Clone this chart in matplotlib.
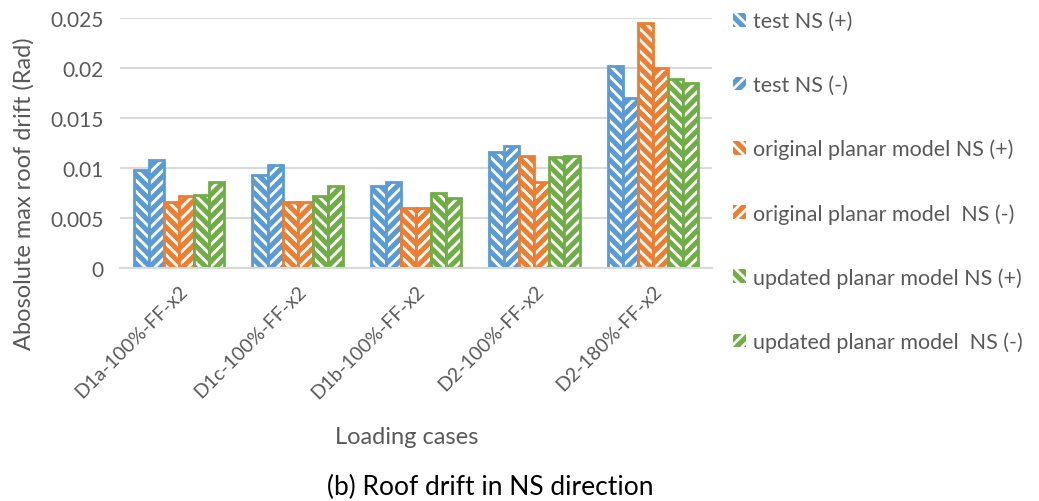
import matplotlib
matplotlib.use("Agg")
import matplotlib.pyplot as plt
import numpy as np

plt.rcParams["font.family"] = ["Lato", "DejaVu Sans"]
plt.rcParams["hatch.linewidth"] = 2.0

cases = ["D1a-100%-FF-x2", "D1c-100%-FF-x2", "D1b-100%-FF-x2",
         "D2-100%-FF-x2", "D2-180%-FF-x2"]
labels = ["test NS (+)", "test NS (-)",
          "original planar model NS (+)", "original planar model  NS (-)",
          "updated planar model NS (+)", "updated planar model  NS (-)"]
test_pos = [0.0098, 0.0093, 0.0082, 0.0116, 0.0202]
test_neg = [0.0108, 0.0103, 0.0086, 0.0122, 0.0170]
orig_pos = [0.0066, 0.0066, 0.0060, 0.0112, 0.0245]
orig_neg = [0.0072, 0.0066, 0.0060, 0.0086, 0.0200]
upd_pos = [0.0073, 0.0072, 0.0075, 0.0111, 0.0189]
upd_neg = [0.0086, 0.0082, 0.0070, 0.0112, 0.0185]

series = [test_pos, test_neg, orig_pos, orig_neg, upd_pos, upd_neg]
colors = ["#5B9BD5", "#5B9BD5", "#ED7D31", "#ED7D31", "#70AD47", "#70AD47"]
hatches = ["\\\\\\", "///", "\\\\\\", "///", "\\\\\\", "///"]

fig = plt.figure(figsize=(10.39, 5.02), dpi=100)
ax = fig.add_axes([120 / 1039, 1 - 269 / 502, 592 / 1039, 250 / 502])

x = np.arange(len(cases))
w = 0.127
handles = []
for i, (vals, c, h, lab) in enumerate(zip(series, colors, hatches, labels)):
    # coloured fill with white hatch, then a coloured outline on top
    b = ax.bar(x + (i - 2.5) * w, vals, w, facecolor=c, edgecolor="white",
               hatch=h, linewidth=0, label=lab)
    ax.bar(x + (i - 2.5) * w, vals, w, fill=False, edgecolor=c, linewidth=2)
    handles.append(b)

ax.set_xlim(-0.5, len(cases) - 0.5)
ax.set_ylim(0, 0.025)
ax.set_yticks([0, 0.005, 0.01, 0.015, 0.02, 0.025])
ax.set_yticklabels(["0", "0.005", "0.01", "0.015", "0.02", "0.025"])
ax.set_xticks(x)
ax.set_xticklabels(cases, rotation=45, ha="right", rotation_mode="anchor")
ax.tick_params(axis="y", length=0, labelsize=15, colors="#595959", pad=12)
ax.tick_params(axis="x", length=0, labelsize=14, colors="#595959", pad=10)
ax.grid(axis="y", color="#D9D9D9", linewidth=1.5)
ax.set_axisbelow(True)
for s in ["top", "right", "left"]:
    ax.spines[s].set_visible(False)
ax.spines["bottom"].set_color("#D9D9D9")
ax.spines["bottom"].set_linewidth(1.5)

ax.set_ylabel("Abosolute max roof drift (Rad)", fontsize=17, color="#595959")
ax.yaxis.set_label_coords(-0.145, 0.30)
fig.text(407 / 1039, 1 - 438 / 502, "Loading cases", fontsize=17,
         color="#595959", ha="center", va="center")
fig.text(490 / 1039, 1 - 487 / 502, "(b) Roof drift in NS direction",
         fontsize=19, color="black", ha="center", va="center")

fig.legend(handles=handles, labels=labels, loc="upper left",
           bbox_to_anchor=(729 / 1039, 1 - 8 / 502),
           frameon=False, fontsize=15.5, labelcolor="#595959",
           handlelength=0.6, handleheight=0.6, handletextpad=0.3,
           labelspacing=2.03, borderaxespad=0, borderpad=0.2)

fig.savefig("out.png", dpi=100)
